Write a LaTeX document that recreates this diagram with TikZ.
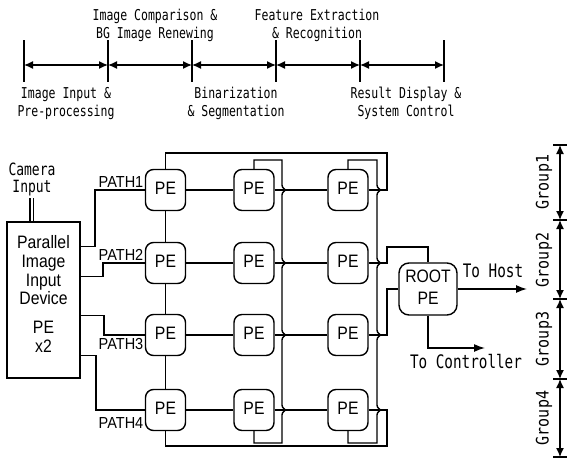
\documentclass[tikz,border=0pt]{standalone}
\usepackage{fontspec}
\setmainfont{Liberation Sans}
\newfontfamily\gulfont{DejaVu Sans Mono}
\usetikzlibrary{arrows.meta}
\newcommand{\gtx}[2][1.3]{\scalebox{1}[#1]{\begin{tabular}{@{}c@{}}#2\end{tabular}}}
\newcommand{\atx}[1]{\scalebox{1.05}[1.2]{\begin{tabular}{@{}c@{}}#1\end{tabular}}}
\newcommand{\hopdown}[2]{-- (#1,#2-5) .. controls (#1,#2-1.5) and (#1+3.5,#2-0.8) .. (#1+3.5,#2) .. controls (#1+3.5,#2+0.8) and (#1,#2+1.5) .. (#1,#2+5)}
\tikzset{
  pe/.style={draw, rounded corners=8pt, minimum width=40pt, minimum height=41pt, inner sep=0pt, font=\fontsize{15}{18}\selectfont},
  toplbl/.style={inner sep=0pt, font=\gulfont\fontsize{11.5}{13.8}\selectfont},
  mainlbl/.style={inner sep=0pt, font=\gulfont\fontsize{14.3}{16}\selectfont},
  grplbl/.style={inner sep=0pt, rotate=90, font=\gulfont\fontsize{15}{16}\selectfont},
  pathlbl/.style={inner sep=0pt, font=\fontsize{14.5}{16}\selectfont},
  dbl/.style={{Latex[length=9pt,width=8pt]}-{Latex[length=9pt,width=8pt]}},
  arr/.style={-{Latex[length=11pt,width=8pt]}},
}
\begin{document}
\begin{tikzpicture}[x=1pt,y=-1pt,line width=1.4pt]
\useasboundingbox (0,0) rectangle (567,461);

% ---------- timeline ----------
\foreach \x [count=\i] in {24,108,192,276,360,444} {
  \coordinate (t\i) at (\x,65);
  \draw (\x,40) -- (\x,82);
}
\foreach \a/\b in {1/2,2/3,3/4,4/5,5/6} \draw[dbl] (t\a) -- (t\b);

\node[toplbl] (lc) at (155,26) {\gtx{Image Comparison \&\\BG Image Renewing}};
\node[toplbl] (lf) at (317,26) {\gtx{Feature Extraction\\\& Recognition}};
\node[toplbl] (li) at (66,104) {\gtx{Image Input \&\\Pre-processing}};
\node[toplbl] (lb) at (236,104) {\gtx{Binarization\\\& Segmentation}};
\node[toplbl] (lr) at (406,104) {\gtx{Result Display \&\\System Control}};

% ---------- input device ----------
\node[draw, minimum width=73pt, minimum height=156pt, inner sep=0pt] (pid) at (43.5,300) {};
\node[inner sep=0pt, font=\fontsize{15}{15.6}\selectfont] (pidtxt) at (43.5,297) {\atx{Parallel\\Image\\Input\\Device\\[8.6pt]PE\\x2}};
\node[inner sep=0pt, font=\gulfont\fontsize{13}{12.3}\selectfont] (cam) at (32,180) {\gtx{Camera\\Input}};
\coordinate (camtop1) at (30,198);
\coordinate (camtop2) at (33.5,198);
\draw[line width=1.1pt] (camtop1) -- (camtop1 |- pid.north);
\draw[line width=1.1pt] (camtop2) -- (camtop2 |- pid.north);

% ---------- PE array ----------
\foreach \r/\y in {1/190,2/263,3/335,4/410} {
  \node[pe] (p\r1) at (165.5,\y) {\atx{PE}};
  \node[pe] (p\r2) at (254,\y) {\atx{PE}};
  \node[pe] (p\r3) at (348,\y) {\atx{PE}};
  \draw (p\r1.east) -- (p\r2.west);
  \draw (p\r2.east) -- (p\r3.west);
}
\draw (p11.south) -- (p21.north);
\draw (p21.south) -- (p31.north);
\draw (p31.south) -- (p41.north);

% paths from input device
\path (pid.north east) ++(0,25) coordinate (pa1);
\path (pid.north east) ++(0,55) coordinate (pa2);
\path (pid.north east) ++(0,94) coordinate (pa3);
\path (pid.north east) ++(0,134) coordinate (pa4);
\draw (pa1) -| (95,190) -- (p11.west);
\draw (pa2) -| (103,263) -- (p21.west);
\draw (pa3) -| (104,335) -- (p31.west);
\draw (pa4) -| (96,410) -- (p41.west);
\node[pathlbl] (path1) at (121,182) {\scalebox{1}[1.1]{PATH1}};
\node[pathlbl] (path2) at (121,255) {\scalebox{1}[1.1]{PATH2}};
\node[pathlbl] (path3) at (121,344) {\scalebox{1}[1.1]{PATH3}};
\node[pathlbl] (path4) at (121,423) {\scalebox{1}[1.1]{PATH4}};

% ROOT PE
\node[draw, rounded corners=10pt, minimum width=58pt, minimum height=52pt, inner sep=0pt, font=\fontsize{15}{18.5}\selectfont] (root) at (428,289) {\atx{ROOT\\PE}};

% rings (rows 1 and 4)
\draw (p13.east) -- (387,190) |- (165.5,153) -- (p11.north);
\draw (p43.east) -- (387,410) |- (165.5,446) -- (p41.south);
% rows 2 and 3 to root
\draw (p23.east) -- (387,263) |- (428,247) -- (root.north);
\draw (p33.east) -- (387,335) |- (root.west);

% buses with hops
\draw (p12.north) |- (282,160) \hopdown{282}{190} \hopdown{282}{263} \hopdown{282}{335} \hopdown{282}{410} -- (282,443) -| (p42.south);
\draw (p13.north) |- (377,160) \hopdown{377}{190} \hopdown{377}{263} \hopdown{377}{335} \hopdown{377}{410} -- (377,443) -| (p43.south);

% outputs
\coordinate (host) at (527,289);
\coordinate (ctrl) at (485,348);
\draw[arr] (root.east) -- (host);
\draw[arr] (root.south) |- (ctrl);
\node[mainlbl] (hostlbl) at (493,273) {\gtx{To Host}};
\node[mainlbl] (ctrllbl) at (466,364) {\gtx{To Controller}};

% group ruler
\foreach \y [count=\i] in {145,220,299,379,457} {
  \coordinate (g\i) at (560,\y);
  \draw (553,\y) -- (567,\y);
}
\foreach \a/\b in {1/2,2/3,3/4,4/5} \draw[dbl] (g\a) -- (g\b);
\node[grplbl] (gr1) at (545,182) {\gtx[1.15]{Group1}};
\node[grplbl] (gr2) at (545,260) {\gtx[1.15]{Group2}};
\node[grplbl] (gr3) at (545,339) {\gtx[1.15]{Group3}};
\node[grplbl] (gr4) at (545,418) {\gtx[1.15]{Group4}};
\end{tikzpicture}
\end{document}
